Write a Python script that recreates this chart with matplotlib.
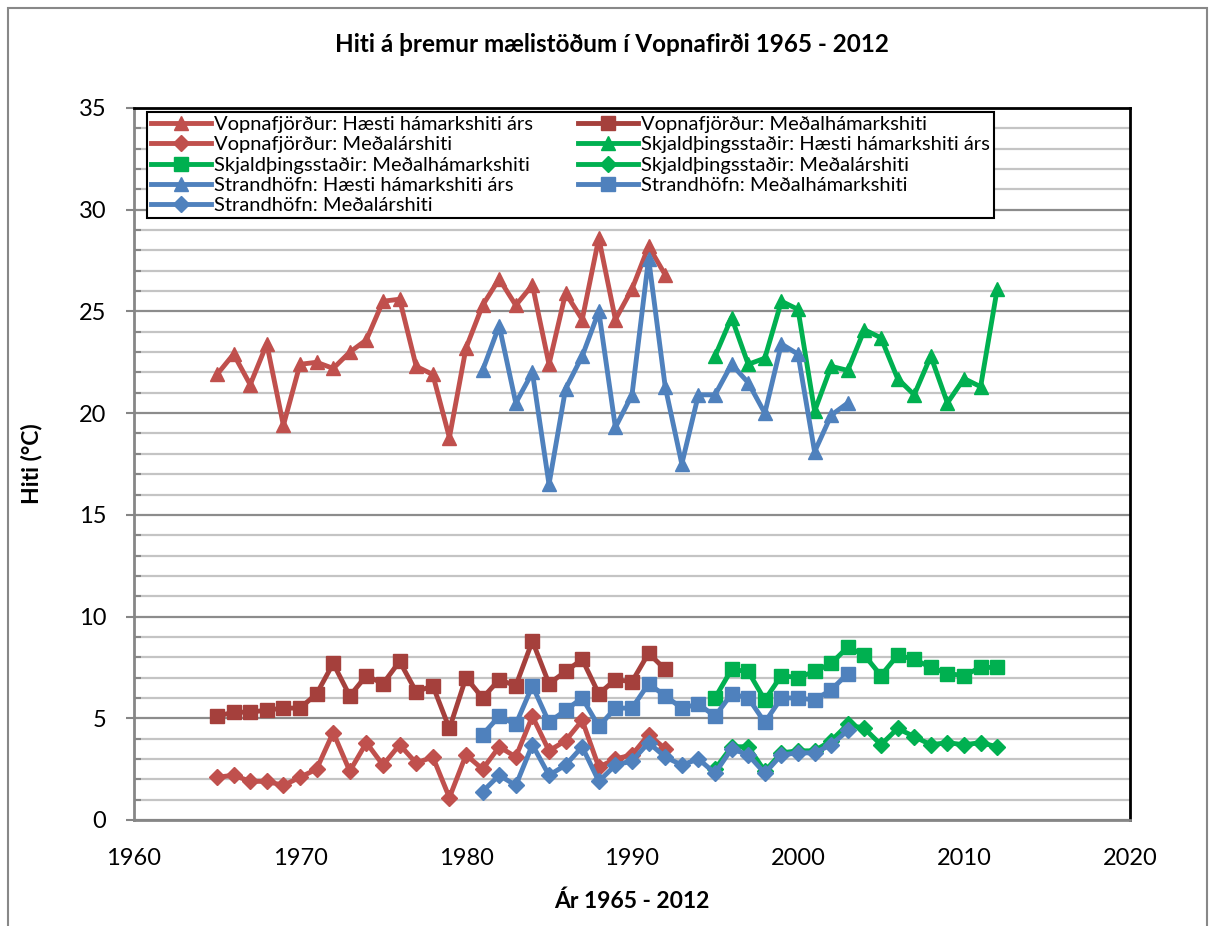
"""Hiti á þremur mælistöðum í Vopnafirði 1965 - 2012"""

import matplotlib
matplotlib.use("Agg")
import matplotlib.pyplot as plt
from matplotlib.patches import Rectangle
import numpy as np

plt.rcParams['font.family'] = ['Lato', 'DejaVu Sans']

# years
yrs_vopna = list(range(1965, 1993))
yrs_strand = list(range(1981, 2004))
yrs_skjald = list(range(1995, 2013))

# Vopnafjörður
vopna_max = [21.9, 22.9, 21.4, 23.4, 19.4, 22.4, 22.5, 22.2, 23.0, 23.6,
             25.5, 25.6, 22.3, 21.9, 18.8, 23.2, 25.3, 26.6, 25.3, 26.3,
             22.4, 25.9, 24.6, 28.6, 24.6, 26.1, 28.2, 26.8]
vopna_meanmax = [5.1, 5.3, 5.3, 5.4, 5.5, 5.5, 6.2, 7.7, 6.1, 7.1,
                 6.7, 7.8, 6.3, 6.6, 4.5, 7.0, 6.0, 6.9, 6.6, 8.8,
                 6.7, 7.3, 7.9, 6.2, 6.9, 6.8, 8.2, 7.4]
vopna_mean = [2.1, 2.2, 1.9, 1.9, 1.7, 2.1, 2.5, 4.3, 2.4, 3.8,
              2.7, 3.7, 2.8, 3.1, 1.1, 3.2, 2.5, 3.6, 3.1, 5.1,
              3.4, 3.9, 4.9, 2.6, 3.0, 3.2, 4.2, 3.5]

# Skjaldþingsstaðir
skjald_max = [22.8, 24.7, 22.4, 22.7, 25.5, 25.1, 20.1, 22.3, 22.1, 24.1,
              23.7, 21.7, 20.9, 22.8, 20.5, 21.7, 21.3, 26.1]
skjald_meanmax = [6.0, 7.4, 7.3, 5.9, 7.1, 7.0, 7.3, 7.7, 8.5, 8.1,
                  7.1, 8.1, 7.9, 7.5, 7.2, 7.1, 7.5, 7.5]
skjald_mean = [2.5, 3.6, 3.6, 2.4, 3.3, 3.4, 3.4, 3.9, 4.7, 4.5,
               3.7, 4.5, 4.1, 3.7, 3.8, 3.7, 3.8, 3.6]

# Strandhöfn
strand_max = [22.1, 24.3, 20.5, 22.0, 16.5, 21.2, 22.8, 25.0, 19.3, 20.9,
              27.6, 21.3, 17.5, 20.9, 20.9, 22.4, 21.5, 20.0, 23.4, 22.9,
              18.1, 19.9, 20.5]
strand_meanmax = [4.2, 5.1, 4.7, 6.6, 4.8, 5.4, 6.0, 4.6, 5.5, 5.5,
                  6.7, 6.1, 5.5, 5.7, 5.1, 6.2, 6.0, 4.8, 6.0, 6.0,
                  5.9, 6.4, 7.2]
strand_mean = [1.4, 2.2, 1.7, 3.7, 2.2, 2.7, 3.6, 1.9, 2.7, 2.9,
               3.8, 3.1, 2.7, 3.0, 2.3, 3.5, 3.2, 2.3, 3.2, 3.3,
               3.3, 3.7, 4.4]

red = "#C0504D"
darkred = "#A5403C"
green = "#00B050"
blue = "#4F81BD"

fig = plt.figure(figsize=(12.15, 9.26), dpi=100)
ax = fig.add_axes([134/1215, 1-820/926, (1130-134)/1215, (820-108)/926])

# outer chart border
fig.patches.append(Rectangle((8/1215, -0.02), 1199/1215, 1-8/926+0.02,
                             transform=fig.transFigure, fill=False,
                             edgecolor="#888888", lw=1.5))

series = [
    (yrs_vopna, vopna_max, red, "^", 10, "Vopnafjörður: Hæsti hámarkshiti árs"),
    (yrs_vopna, vopna_meanmax, darkred, "s", 9.5, "Vopnafjörður: Meðalhámarkshiti"),
    (yrs_vopna, vopna_mean, red, "D", 8, "Vopnafjörður: Meðalárshiti"),
    (yrs_skjald, skjald_max, green, "^", 10, "Skjaldþingsstaðir: Hæsti hámarkshiti árs"),
    (yrs_skjald, skjald_meanmax, green, "s", 9.5, "Skjaldþingsstaðir: Meðalhámarkshiti"),
    (yrs_skjald, skjald_mean, green, "D", 8, "Skjaldþingsstaðir: Meðalárshiti"),
    (yrs_strand, strand_max, blue, "^", 10, "Strandhöfn: Hæsti hámarkshiti árs"),
    (yrs_strand, strand_meanmax, blue, "s", 9.5, "Strandhöfn: Meðalhámarkshiti"),
    (yrs_strand, strand_mean, blue, "D", 8, "Strandhöfn: Meðalárshiti"),
]

handles = []
for i, (x, y, c, m, ms, lab) in enumerate(series):
    h, = ax.plot(x, y, color=c, marker=m, markersize=ms, lw=3.5,
                 label=lab, zorder=3 + i)
    handles.append(h)

ax.set_xlim(1960, 2020)
ax.set_ylim(0, 35)
ax.set_xticks(np.arange(1960, 2021, 10))
ax.set_yticks(np.arange(0, 36, 5))
ax.set_yticks(np.arange(0, 36, 1), minor=True)
ax.grid(axis="y", which="major", color="#8C8C8C", lw=1.6, zorder=0)
ax.grid(axis="y", which="minor", color="#C4C4C4", lw=1.6, zorder=0)
ax.tick_params(axis="x", length=0, pad=20, labelsize=17)
ax.tick_params(axis="y", which="major", direction="out", length=6,
               width=1.5, color="#868686", labelsize=17, pad=14)
ax.tick_params(axis="y", which="minor", direction="in", length=5,
               width=1.5, color="#868686")
ax.tick_params(axis="x", which="minor", length=0)
for s in ["left", "bottom"]:
    ax.spines[s].set_color("#868686")
    ax.spines[s].set_linewidth(2)
for s in ["top", "right"]:
    ax.spines[s].set_color("black")
    ax.spines[s].set_linewidth(2)

fig.text(612/1215, 1-45/926, "Hiti á þremur mælistöðum í Vopnafirði 1965 - 2012",
         ha="center", va="center", fontsize=17.5, fontweight="bold")
ax.set_xlabel("Ár 1965 - 2012", fontsize=16.5, fontweight="bold", labelpad=16)
ax.set_ylabel("Hiti (°C)", fontsize=16.5, fontweight="bold", labelpad=26)

# legend order: Excel fills rows, matplotlib fills columns
order = [0, 2, 4, 6, 8, 1, 3, 5, 7]
leg = ax.legend([handles[i] for i in order], [series[i][5] for i in order],
                ncol=2, loc="upper left", bbox_to_anchor=(147/1215, 1-112/926),
                bbox_transform=fig.transFigure, fontsize=14.5, numpoints=1,
                handlelength=3.0, handletextpad=0.15, labelspacing=0.16,
                columnspacing=2.2, borderpad=0.2, borderaxespad=0,
                fancybox=False, framealpha=1, edgecolor="black")
leg.get_frame().set_linewidth(1.5)
leg.set_zorder(20)

fig.savefig("out.png", dpi=100)
